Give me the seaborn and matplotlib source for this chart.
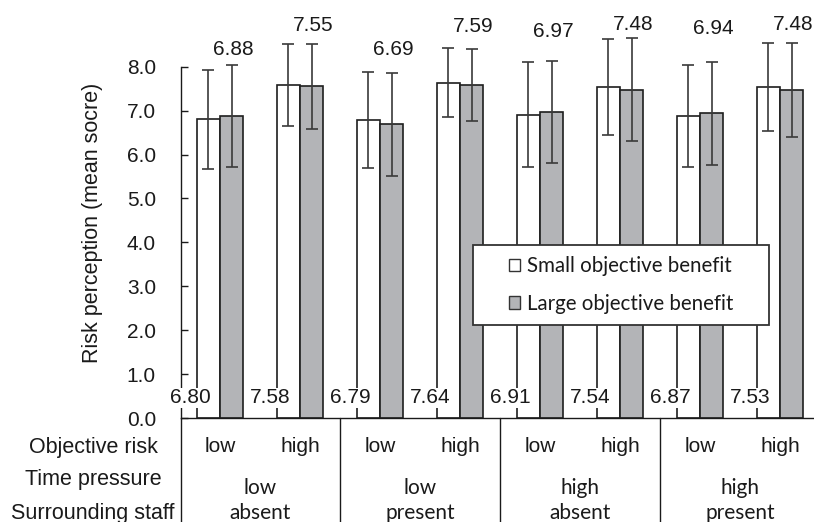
import matplotlib
matplotlib.use("Agg")
import matplotlib.pyplot as plt
import seaborn as sns
import pandas as pd
from matplotlib.patches import Patch, Rectangle
from matplotlib.transforms import blended_transform_factory

# Experimental conditions (one bar pair per cell)
objective_risk = ["low", "high", "low", "high", "low", "high", "low", "high"]
time_pressure = ["low", "low", "high", "high"]
surrounding_staff = ["absent", "present", "absent", "present"]
row_headers = ["Objective risk", "Time pressure", "Surrounding staff"]
benefit_levels = ["Small objective benefit", "Large objective benefit"]

# Mean risk perception and standard deviations
small_means = [6.80, 7.58, 6.79, 7.64, 6.91, 7.54, 6.87, 7.53]
large_means = [6.88, 7.55, 6.69, 7.59, 6.97, 7.48, 6.94, 7.48]
small_sd = [1.12, 0.94, 1.10, 0.79, 1.20, 1.09, 1.16, 1.00]
large_sd = [1.17, 0.97, 1.17, 0.82, 1.16, 1.17, 1.17, 1.07]
y_ticks = [0.0, 1.0, 2.0, 3.0, 4.0, 5.0, 6.0, 7.0, 8.0]

# Heights of the value labels above the large-benefit bars
large_label_y = [8.40, 8.95, 8.40, 8.91, 8.80, 8.97, 8.86, 8.97]

sns.set_theme(style="white")
plt.rcParams["font.family"] = ["Liberation Sans", "DejaVu Sans"]
humanist = ["Lato", "DejaVu Sans"]

conditions = [f"cond{i}" for i in range(len(small_means))]
df = pd.DataFrame({
    "condition": conditions * 2,
    "benefit": [benefit_levels[0]] * len(conditions) + [benefit_levels[1]] * len(conditions),
    "score": small_means + large_means,
})

fill_white = "#ffffff"
fill_gray = "#b3b4b7"
edge = "#1e1e1e"
ink = "#1a1a1a"

fig = plt.figure(figsize=(8.14, 5.22), dpi=100)
ax = fig.add_axes([181 / 814, 104 / 522, 1 - 181 / 814, 418 / 522])

sns.barplot(data=df, x="condition", y="score", hue="benefit",
            order=conditions, hue_order=benefit_levels,
            palette=[fill_white, fill_gray], saturation=1,
            width=0.58, edgecolor=edge, linewidth=1.2,
            errorbar=None, legend=False, ax=ax)

# Error bars (±SD) at the bar centres
for container, means, sds in zip(ax.containers, [small_means, large_means], [small_sd, large_sd]):
    xs = [p.get_x() + p.get_width() / 2 for p in container]
    ax.errorbar(xs, means, yerr=sds, fmt="none", ecolor="#3a3a3a",
                elinewidth=1.2, capsize=4, capthick=1.2, zorder=4)

# Value labels
large_centres = [p.get_x() + p.get_width() / 2 for p in ax.containers[1]]
for i, v in enumerate(small_means):
    ax.text(i - 0.37, 0.46, f"{v:.2f}", ha="center", va="center", fontsize=15,
            color=ink, zorder=6, clip_on=False,
            bbox=dict(facecolor="white", edgecolor="none", pad=0.5))
for i, v in enumerate(large_means):
    ax.text(large_centres[i] + 0.02, large_label_y[i], f"{v:.2f}", ha="center", va="center",
            fontsize=15, color=ink, zorder=6, clip_on=False)

# Axes styling
ax.set_xlim(-0.4875, 7.425)
ax.set_ylim(0, 9.52)
ax.set_yticks(y_ticks)
ax.set_yticklabels([f"{t:.1f}" for t in y_ticks], fontsize=15, color=ink)
ax.tick_params(axis="y", direction="in", length=5, width=1.0, color=ink, pad=18, left=True)
ax.set_xticks([])
ax.set_xlabel("")
ax.set_ylabel("")
for side in ["top", "right"]:
    ax.spines[side].set_visible(False)
ax.spines["left"].set_bounds(0, 8)
for side in ["left", "bottom"]:
    ax.spines[side].set_color(ink)
    ax.spines[side].set_linewidth(1.0)

fig.text(93 / 814, 1 - 223 / 522, "Risk perception (mean socre)", rotation=90,
         ha="center", va="center", fontsize=15.5, color=ink)

# Condition table below the axis
trans = blended_transform_factory(ax.transData, ax.transAxes)
bottom_frac = -104 / 418
for xsep in [-0.4875, 1.5, 3.5, 5.5]:
    ax.plot([xsep, xsep], [0, bottom_frac], transform=trans, color=ink,
            lw=1.0, clip_on=False)

row_y = [(418 - 447) / 418, (418 - 488) / 418, (418 - 513) / 418]
for i, lab in enumerate(objective_risk):
    ax.text(i, row_y[0], lab, transform=trans, ha="center", va="center",
            fontsize=15, color=ink)
for j, (tp, st) in enumerate(zip(time_pressure, surrounding_staff)):
    ax.text(2 * j + 0.5, row_y[1], tp, transform=trans, ha="center", va="center",
            fontsize=15, family=humanist, color=ink)
    ax.text(2 * j + 0.5, row_y[2], st, transform=trans, ha="center", va="center",
            fontsize=15, family=humanist, color=ink)

header_y = [447, 480, 513]
for lab, yp in zip(row_headers, header_y):
    fig.text(93 / 814, 1 - yp / 522, lab, ha="center", va="center",
             fontsize=15.5, color=ink)

# Legend: entries centred inside a square-cornered box
box_x0, box_y0, box_w, box_h = 473 / 814, 1 - 325 / 522, 296 / 814, 80 / 522
ax.add_patch(Rectangle((box_x0, box_y0), box_w, box_h, transform=fig.transFigure,
                       facecolor="white", edgecolor="#333333", linewidth=1.3,
                       zorder=7, clip_on=False))
handles = [Patch(facecolor=fill_white, edgecolor="#333333", linewidth=1.0),
           Patch(facecolor=fill_gray, edgecolor="#333333", linewidth=1.0)]
leg = ax.legend(handles, benefit_levels, loc="center",
                bbox_to_anchor=(box_x0 + box_w / 2, box_y0 + box_h / 2),
                bbox_transform=fig.transFigure,
                prop={"family": humanist, "size": 14.8}, frameon=False,
                borderpad=0, labelspacing=0.85,
                handlelength=0.55, handleheight=0.55, handletextpad=0.3,
                borderaxespad=0)
leg.set_zorder(8)
for t in leg.get_texts():
    t.set_color(ink)

fig.savefig("out.png", dpi=100)
